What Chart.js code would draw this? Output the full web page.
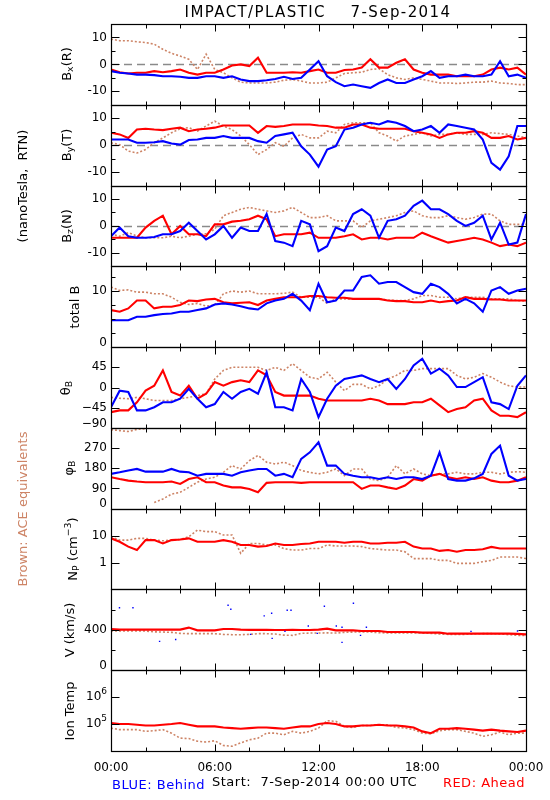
<!DOCTYPE html>
<html><head><meta charset="utf-8">
<script src="https://cdn.jsdelivr.net/npm/chart.js@4.4.1/dist/chart.umd.min.js"></script>
<style>
html,body{margin:0;padding:0;background:#fff;}
#wrap{position:relative;width:550px;height:800px;overflow:hidden;font-family:'DejaVu Sans',sans-serif;color:#000;}
canvas{position:absolute;left:0;top:0;}
.t{position:absolute;white-space:pre;line-height:1;}
.rot{transform:translate(-50%,-50%) rotate(-90deg);}
sub,sup{font-size:72%;line-height:0;}
sub{vertical-align:-0.3em;}
sup{vertical-align:0.55em;}
</style></head><body>
<div id="wrap"><canvas id="c" width="550" height="800"></canvas></div>
<script>
// ---------- time axis (hours since 7-Sep-2014 00:00 UTC) ----------
const HOURS = [0,0.5,1,1.5,2,2.5,3,3.5,4,4.5,5,5.5,6,6.5,7,7.5,8,8.5,9,9.5,10,10.5,11,11.5,12,12.5,13,13.5,14,14.5,15,15.5,16,16.5,17,17.5,18,18.5,19,19.5,20,20.5,21,21.5,22,22.5,23,23.5,24];
const X_LABEL_HOURS = [0,6,12,18,24];
const X_TICK_LABELS = ['00:00','06:00','12:00','18:00','00:00'];
const X_TICK_HOURS = [2,4,6,8,10,12,14,16,18,20,22];

// ---------- B_x (R), nT ----------
const BX_BLUE = [-2.5,-3.1,-3.4,-3.8,-3.8,-4,-4.4,-4.4,-4.6,-5,-5,-4.4,-4.4,-5,-4.4,-5.6,-6.2,-6.2,-5.9,-5.4,-4.6,-5.4,-5,-1.9,1.2,-4.4,-6.6,-8.1,-7.5,-8.1,-8.7,-6.9,-5.6,-6.9,-6.9,-5.6,-4.4,-2.5,-5,-4.4,-4.4,-3.8,-4.4,-4.4,-3.8,1.2,-4.4,-3.8,-5];
const BX_RED  = [-1.9,-2.9,-3.4,-3.1,-3.1,-2.5,-2.9,-2.5,-1.9,-3.1,-3.8,-3.1,-3.1,-1.9,-0.4,0,-0.6,2.5,-3.1,-3.1,-3.1,-2.9,-3.1,-2.5,-1.9,-3.1,-3.1,-2.1,-1.9,-1.2,1.9,-1.2,-1.2,0.6,1.9,-1.9,-3.1,-3.8,-3.8,-3.8,-4.4,-4.4,-4.4,-3.8,-1.9,-1.2,-1.9,-1.2,-3.8];
const BX_ACE  = [9.4,8.8,8.8,8.4,8.1,7.5,5.6,4.1,3.1,1.9,-1.9,3.8,-1.9,-3.1,-5,-6.6,-6.9,-6.9,-6.9,-6.6,-5.9,-5.6,-6.2,-6.9,-6.9,-6.6,-5,-3.4,-3.1,-2.9,-1.9,-1.6,-3.8,-5,-5.6,-5,-5.6,-6.2,-6.9,-6.9,-7.1,-6.9,-6.6,-6.6,-6.2,-6.9,-7.1,-7.5,-7.5];

// ---------- B_y (T), nT ----------
const BY_BLUE = [2.1,2.1,2.1,0.9,0.9,1.1,1.5,0.6,0.2,1.9,2.1,2.7,2.7,3.4,2.7,2.7,2.7,1.5,0.9,3.4,4,4.6,-0.4,-3.5,-8,-1.6,-0.4,5.8,6.5,7.7,8.3,7.7,8.9,8.3,7.1,5.2,5.8,7.1,4.6,7.7,7.1,6.5,5.8,2.1,-6.6,-9.1,-4.1,7.1,7.1];
const BY_RED  = [4.6,4,2.7,5.8,6.1,5.8,5.6,6.1,6.5,5.2,5.8,6.1,6.5,7.3,7.3,7.3,7.3,4.6,7.1,6.8,7.1,7.7,7.7,7.7,7.3,7.1,6.5,6.5,7.7,7.7,6.5,6.1,6.1,6.1,6.1,5.2,4.6,4,2.7,4,4.6,4.6,5.2,4.6,2.7,2.7,3.4,2.1,2.7];
const BY_ACE  = [0.9,0.2,-2.2,-2.9,-1.6,0.9,2.7,4.6,6.1,6.5,5.2,7.1,8.9,7.1,5.8,3.4,0.2,-3.5,-1.6,0.9,-0.4,2.7,4,2.7,2.7,5.2,4.6,7.7,8.3,8.3,8.3,4.6,3.4,1.5,3.4,4,4.6,3.4,4,4,4.6,4,4,4,4.6,4.3,4,3.4,2.7];

// ---------- B_z (N), nT ----------
const BZ_BLUE = [-3.8,-0.6,-3.8,-4.4,-4.4,-4.1,-3.1,-3.1,-1.9,1.2,-1.9,-5,-3.1,0,-4.4,-0.6,-1.9,-1.9,4.4,-5.6,-6.2,-7.5,1.9,0.6,-9.4,-7.5,-0.6,-1.9,4.4,6.2,3.8,-4.4,1.9,2.5,3.8,7.5,9.4,6.2,6.2,4.4,1.9,0,1.2,3.8,-5,1.2,-6.9,-6.2,4.4];
const BZ_RED  = [-4.4,-4.4,-4.4,-4.4,-0.6,1.9,3.8,-3.1,0,-3.1,-3.1,-3.8,0.6,0.6,1.6,1.9,2.5,3.8,2.5,-3.8,-3.1,-3.1,-3.1,-2.5,-4.4,-4.4,-4.4,-3.8,-3.1,-5,-4.4,-4.4,-5,-4.4,-4.4,-4.4,-2.5,-3.8,-5,-6.2,-5.6,-5,-4.4,-5,-6.2,-7.5,-6.9,-7.5,-6.2];
const BZ_ACE  = [-3.1,-3.8,-2.5,-3.8,-4.4,-4.4,-4.4,-3.8,-4.4,-3.8,-3.1,-2.9,-1.2,3.8,5,6.2,6.9,6.2,5.6,5,5.6,6.9,5,3.1,3.1,3.8,1.9,1.9,1.9,-0.6,1.9,2.5,3.1,3.8,5,5.6,3.8,3.1,3.1,3.8,3.1,2.5,3.1,4.4,4.4,1.9,0.6,0.6,0.6];

// ---------- total B, nT ----------
const BT_BLUE = [4.8,4.8,4.8,5.4,5.4,5.7,5.9,6,6.3,6.3,6.6,6.9,7.6,7.8,7.6,7.3,6.9,6.7,7.8,8.3,8.6,9.5,8.3,6.6,11.3,8,8.3,10.1,10.1,12.5,12.8,11.3,11.6,11.6,10.7,9.8,9.5,11.3,10.7,9.5,7.8,8.6,7.8,6.3,10.1,10.7,9.5,10.1,10.4];
const BT_RED  = [6.6,6.3,6.9,8.3,8.3,6.9,7.2,7.2,7.5,8.3,8.2,8.5,8.6,8,7.8,7.9,8,7.5,8.3,8.6,8.9,8.9,8.9,9.1,9.1,8.9,8.8,8.8,8.6,8.6,8.6,8.6,8.3,8.2,8.2,8,8,8.3,8,8.2,8.3,8.9,8.6,8.6,8.5,8.5,8.3,8.3,8.3];
const BT_ACE  = [10.7,10.1,10.2,9.8,9.8,9.5,9.5,8.9,8,7.6,7.8,7.3,7.5,9.5,10,9.8,10,9.5,9.5,9.5,9.6,9.8,8.9,8.9,8.9,7.8,8.6,8.6,8.6,8.6,8.6,8.6,8.4,8.3,8.3,8.6,9.2,9.2,8.9,8.9,8.6,8.9,8.9,8.9,8.6,8.6,8.6,8.3,8.2];

// ---------- theta_B, deg ----------
const TH_BLUE = [-44,-7,-10,-51,-51,-44,-33,-33,-25,-3,-25,-44,-37,-10,-25,-10,-3,-14,34,-44,-44,-51,19,-10,-66,-25,4,19,23,27,19,12,19,-3,19,49,64,31,42,27,1,1,12,23,-33,-37,-48,4,27];
const TH_RED  = [-55,-51,-51,-33,-7,4,38,-10,-18,4,-25,-14,12,4,12,16,12,38,27,-10,-18,-18,-18,-18,-25,-29,-29,-29,-29,-29,-25,-29,-37,-37,-37,-33,-33,-25,-40,-55,-48,-44,-29,-25,-51,-63,-63,-66,-55];
const TH_ACE  = [-22,-24,-25,-22,-25,-29,-29,-29,-25,-22,-18,-14,19,38,45,45,45,45,38,45,38,53,38,23,19,34,12,-7,7,7,-3,4,19,27,38,38,42,42,42,42,27,19,23,31,23,12,4,1,1];

// ---------- phi_B, deg ----------
const PH_BLUE = [155,162,170,177,165,165,165,177,165,162,147,155,155,155,147,162,170,177,177,147,155,140,222,251,296,192,192,155,147,140,140,132,140,132,140,140,132,147,251,132,125,125,135,155,244,281,147,125,132];
const PH_RED  = [140,132,125,121,118,118,118,121,110,132,140,118,118,103,95,95,88,73,115,118,118,118,115,118,118,118,118,118,118,88,103,103,95,88,103,132,125,147,155,140,132,140,132,140,125,118,118,125,140];
const PH_ACE  = [352,348,344,353,357,28,43,65,73,95,118,132,140,162,192,177,214,237,207,199,207,192,170,162,155,162,177,147,177,177,132,125,140,192,155,177,155,147,155,155,162,155,155,162,162,155,162,165,162];

// ---------- N_P, cm^-3 ----------
const NP_RED = [7.9,5.9,3.9,2.9,6.8,6.8,5.1,6.8,7.2,7.9,5.9,5.9,5.9,6.8,5.9,4.5,4.5,3.9,4.1,5.1,4.5,4.5,4.9,5.1,5.9,5.9,5.9,5.4,5.9,5.9,5.1,5.1,5.4,5.4,5.9,3.9,3.3,3.3,2.7,2.9,2.5,2.9,2.9,3.1,3.8,3.3,3.3,3.3,3.3];
const NP_ACE = [9.1,6.8,6.8,7.9,7.9,6.8,6.4,6.8,7.2,9.1,16,14,14,10.5,10.5,2.2,5.1,5.1,4.5,4.5,3.3,2.9,2.9,3.3,3.3,4.5,4.1,4.1,4.1,3.9,3.3,3.1,2.9,2.9,2.5,1.4,1.4,1.4,1.2,1.2,0.93,0.93,0.93,1.07,1.2,1.6,1.6,1.6,1.4];

// ---------- V, km/s ----------
const V_RED = [408,402,402,402,402,402,402,402,402,422,395,395,395,408,408,402,400,400,400,398,398,400,398,398,402,412,395,395,395,388,388,388,378,378,378,378,372,372,372,362,362,362,362,362,362,362,362,360,355];
const V_ACE = [388,388,388,388,388,380,378,375,365,362,362,362,362,355,352,352,355,362,362,358,348,345,365,368,368,370,368,375,378,378,378,372,368,368,368,368,368,365,358,355,355,355,360,362,362,360,352,345,345];
const V_BLUE_HOURS = [0.49,1.27,2.81,3.74,6.77,6.93,8.07,8.86,9.29,9.32,10.06,10.19,10.41,11.41,11.93,12.34,13.03,13.36,13.36,14.02,14.43,14.77,20.82,23.51];
const V_BLUE       = [618,618,286,305,644,604,355,538,564,315,385,594,594,438,365,634,438,276,425,664,345,425,385,388];

// ---------- Ion temperature, K ----------
const T_RED = [109000,100000,100000,94500,89000,89000,94500,100000,109000,94500,82000,82000,82000,75000,71000,67000,71000,75000,75000,71000,67000,75000,82000,82000,100000,109000,100000,82000,82000,89000,89000,94500,89000,89000,82000,75000,53500,46000,67000,67000,71000,67000,62000,57000,62000,57000,53500,50500,57000];
const T_ACE = [71000,62000,62000,62000,53500,57000,62000,46000,30000,29000,23000,21500,24000,16000,15000,20000,26000,30000,46000,46000,40000,53500,46000,53500,71000,133000,126000,82000,75000,89000,89000,94500,94500,75000,71000,62000,46000,43000,57000,62000,62000,53500,46000,35000,40000,50500,40000,46000,46000];

// ---------- panel axes: tick labels ----------
const BX_LABELS = [-10,0,10];
const BT_LABELS = [0,10];
const TH_LABELS = [-90,-45,0,45];
const PH_LABELS = [0,90,180,270];
const NP_LABELS = [1,10];
const V_LABELS  = [0,400];
const T_LABELS  = [1e5,1e6];

const BLUE='#0000ff', RED='#ff0000', BROWN='#cd8466';

const PANELS = [
 {id:'yBx',min:-15,max:15,labels:BX_LABELS,texts:BX_LABELS.map(String),minor:[-5,5],dashed:true,title:'B<sub>x</sub>(R)',tx:66,
  sets:[[BX_BLUE,BLUE],[BX_RED,RED],[BX_ACE,BROWN]]},
 {id:'yBy',min:-15,max:15,labels:BX_LABELS,texts:BX_LABELS.map(String),minor:[-5,5],dashed:true,title:'B<sub>y</sub>(T)',tx:66,
  sets:[[BY_BLUE,BLUE],[BY_RED,RED],[BY_ACE,BROWN]]},
 {id:'yBz',min:-15,max:15,labels:BX_LABELS,texts:BX_LABELS.map(String),minor:[-5,5],dashed:true,title:'B<sub>z</sub>(N)',tx:66,
  sets:[[BZ_BLUE,BLUE],[BZ_RED,RED],[BZ_ACE,BROWN]]},
 {id:'yBt',min:0,max:14.4,labels:BT_LABELS,texts:BT_LABELS.map(String),minor:[2.5,5,7.5,12.5],title:'total B',tx:74,
  sets:[[BT_BLUE,BLUE],[BT_RED,RED],[BT_ACE,BROWN]]},
 {id:'yTh',min:-90,max:90,labels:TH_LABELS,texts:TH_LABELS.map(v=>v<0?'\u2212'+(-v):String(v)),minor:[],title:'\u03b8<sub>B</sub>',tx:65,
  sets:[[TH_BLUE,BLUE],[TH_RED,RED],[TH_ACE,BROWN]]},
 {id:'yPh',min:0,max:360,labels:PH_LABELS,texts:PH_LABELS.map(String),minor:[],title:'\u03c6<sub>B</sub>',tx:68,wrap:true,
  sets:[[PH_BLUE,BLUE],[PH_RED,RED],[PH_ACE,BROWN]]},
 {id:'yNp',log:true,min:0.1,max:100,labels:NP_LABELS,texts:NP_LABELS.map(String),minor:[],title:'N<sub>P</sub> (cm<sup>\u22123</sup>)',tx:72,
  sets:[[NP_RED,RED],[NP_ACE,BROWN]]},
 {id:'yV',min:0,max:800,labels:V_LABELS,texts:V_LABELS.map(String),minor:[200,600],title:'V (km/s)',tx:69,
  sets:[[V_RED,RED],[V_ACE,BROWN]]},
 {id:'yT',log:true,min:1e4,max:1e7,labels:T_LABELS,texts:['10','10'],sups:['5','6'],minor:[],title:'Ion Temp',tx:69,
  sets:[[T_RED,RED],[T_ACE,BROWN]]}
];

Chart.defaults.font.family = "'DejaVu Sans', sans-serif";
Chart.defaults.color = '#000';

const datasets = [];
PANELS.forEach(p=>{
  if(p.id==='yV'){
    datasets.push({type:'scatter',yAxisID:'yV',data:V_BLUE_HOURS.map((h,i)=>({x:h,y:V_BLUE[i]})),
      backgroundColor:BLUE,borderColor:BLUE,pointRadius:1,pointStyle:'rect',pointBorderWidth:0,showLine:false});
  }
  p.sets.forEach(([arr,col])=>{
    const brown = col===BROWN;
    const ds = {type:'line',yAxisID:p.id,data:HOURS.map((h,i)=>({x:h,y:arr[i]})),
      borderColor:col,backgroundColor:col,borderWidth:brown?1.6:2.1,pointRadius:0,tension:0,
      borderDash:brown?[2,2]:[]};
    if(p.wrap){
      ds.segment={borderColor:c=>Math.abs(c.p0.parsed.y-c.p1.parsed.y)>180?'rgba(0,0,0,0)':undefined};
    }
    datasets.push(ds);
  });
});

const scales = {
  x:{type:'linear',min:0,max:24,position:'bottom',
     grid:{display:false},border:{display:false},
     afterBuildTicks:s=>{s.ticks=X_LABEL_HOURS.map(v=>({value:v}));},
     afterFit:s=>{s.height=22;},
     ticks:{autoSkip:false,maxRotation:0,padding:2,font:{size:12},color:'#000',
            callback:(v,i)=>X_TICK_LABELS[i]}}
};
PANELS.forEach((p,i)=>{
  scales[p.id]={type:p.log?'logarithmic':'linear',min:p.min,max:p.max,position:'left',
    stack:'panels',stackWeight:1,weight:PANELS.length-i,offset:false,
    grid:{display:false},border:{display:false},ticks:{display:false},
    afterFit:s=>{s.width=111;}};
});

const frame = {
  id:'frame',
  beforeDatasetsDraw(chart){
    const ctx=chart.ctx, ca=chart.chartArea;
    ctx.save();
    ctx.strokeStyle='#8a8a8a'; ctx.lineWidth=1.3; ctx.setLineDash([8,5]);
    PANELS.forEach(p=>{
      if(!p.dashed) return;
      const y=Math.round(chart.scales[p.id].getPixelForValue(0))+0.5;
      ctx.beginPath(); ctx.moveTo(ca.left,y); ctx.lineTo(ca.right,y); ctx.stroke();
    });
    ctx.restore();
  },
  afterDatasetsDraw(chart){
    const ctx=chart.ctx, ca=chart.chartArea, xs=chart.scales.x;
    ctx.save(); ctx.setLineDash([]); ctx.strokeStyle='#000';
    const L=Math.round(ca.left)+0.5, R=Math.round(ca.right)+0.5;
    PANELS.forEach(p=>{
      const s=chart.scales[p.id];
      const top=Math.round(s.top)+0.5, bot=Math.round(s.bottom)+0.5;
      ctx.lineWidth=1.2;
      ctx.strokeRect(L,top,R-L,bot-top);
      ctx.lineWidth=1;
      const tick=(v,len)=>{const y=Math.round(s.getPixelForValue(v))+0.5;
        ctx.beginPath(); ctx.moveTo(L,y); ctx.lineTo(L+len,y); ctx.moveTo(R,y); ctx.lineTo(R-len,y); ctx.stroke();};
      p.labels.forEach(v=>tick(v,8)); p.minor.forEach(v=>tick(v,4));
      X_TICK_HOURS.forEach(h=>{const x=Math.round(xs.getPixelForValue(h))+0.5; const len=(h%6===0)?7:4;
        ctx.beginPath(); ctx.moveTo(x,top); ctx.lineTo(x,top+len); ctx.moveTo(x,bot); ctx.lineTo(x,bot-len); ctx.stroke();});
      ctx.fillStyle='#000'; ctx.textAlign='right'; ctx.textBaseline='middle';
      p.labels.forEach((v,i)=>{
        let y=s.getPixelForValue(v);
        y=Math.min(y, s.bottom-4.5);
        const xr=ca.left-4;
        if(p.sups){
          ctx.font="9px 'DejaVu Sans'";
          const w=ctx.measureText(p.sups[i]).width;
          ctx.fillText(p.sups[i], xr, y-5);
          ctx.font="12px 'DejaVu Sans'";
          ctx.fillText(p.texts[i], xr-w, y);
        } else {
          ctx.font="12px 'DejaVu Sans'";
          ctx.fillText(p.texts[i], xr, y);
        }
      });
    });
    ctx.restore();
  }
};

const chart = new Chart(document.getElementById('c'),{
  type:'line',
  data:{datasets},
  options:{responsive:false,animation:false,events:[],
    layout:{padding:{top:24,right:24,bottom:27,left:0}},
    plugins:{legend:{display:false},tooltip:{enabled:false},title:{display:false}},
    scales},
  plugins:[frame]
});

// ---------- text overlays ----------
const wrap=document.getElementById('wrap');
function addText(html,css,cls){const d=document.createElement('div');d.className='t '+(cls||'');d.innerHTML=html;d.style.cssText+=css;wrap.appendChild(d);return d;}
addText('IMPACT/PLASTIC    7-Sep-2014','left:318px;top:12px;font-size:15px;letter-spacing:1.4px;transform:translate(-50%,-50%);');
PANELS.forEach(p=>{
  const s=chart.scales[p.id];
  addText(p.title,`left:${p.tx}px;top:${(s.top+s.bottom)/2}px;font-size:13px;`,'rot');
});
const b1=chart.scales.yBx, b4=chart.scales.yBt;
addText('(nanoTesla,  RTN)',`left:22px;top:${(b1.top+b4.bottom)/2}px;font-size:13px;`,'rot');
addText('Brown: ACE equivalents',`left:22px;top:509px;font-size:13px;color:${BROWN};`,'rot');
addText('BLUE: Behind','left:112px;top:778px;font-size:13px;letter-spacing:0.5px;color:#0000ff;');
addText('Start:  7-Sep-2014 00:00 UTC','left:212px;top:775px;font-size:13px;letter-spacing:0.5px;');
addText('RED: Ahead','right:25px;top:776px;font-size:13px;letter-spacing:0.5px;color:#ff0000;');
</script>
</body></html>
